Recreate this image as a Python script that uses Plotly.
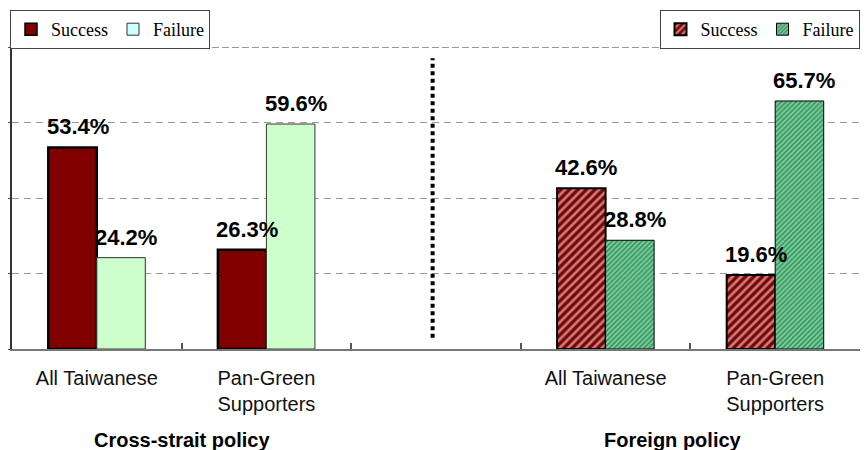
import plotly.graph_objects as go

# ---- data ----
group_labels = ["All Taiwanese", "Pan-Green<br>Supporters"]
cross_x = [0, 1]
foreign_x = [3, 4]
cross_success = [53.4, 26.3]
cross_failure = [24.2, 59.6]
foreign_success = [42.6, 19.6]
foreign_failure = [28.8, 65.7]
section_titles = ["Cross-strait policy", "Foreign policy"]
series_names = ["Success", "Failure"]

# ---- style ----
RED = "#800000"
LIGHT_GREEN = "#CCFFCC"
LEGEND_CYAN = "#CCFFFF"
GREEN = "#33A060"
BARGAP = 0.428
SANS = "Liberation Sans, Arial, sans-serif"
SERIF = "Liberation Serif, Times New Roman, serif"
# the page body adds an 8px margin, so the figure is sized to fit the window
W, H = 860, 442

fig = go.Figure()

# cross-strait bars
fig.add_trace(go.Bar(x=cross_x, y=cross_success, name=series_names[0], offsetgroup="s",
                     marker=dict(color=RED, line=dict(color="black", width=2.5)),
                     showlegend=False))
fig.add_trace(go.Bar(x=cross_x, y=cross_failure, name=series_names[1], offsetgroup="f",
                     marker=dict(color=LIGHT_GREEN, line=dict(color="#333333", width=1)),
                     showlegend=False))
# foreign policy bars (hatched)
fig.add_trace(go.Bar(x=foreign_x, y=foreign_success, name=series_names[0], offsetgroup="s",
                     marker=dict(color=RED, line=dict(color="black", width=2),
                                 pattern=dict(shape="/", fgcolor="white", bgcolor=RED,
                                              size=6, solidity=0.45)),
                     legend="legend2"))
fig.add_trace(go.Bar(x=foreign_x, y=foreign_failure, name=series_names[1], offsetgroup="f",
                     marker=dict(color=GREEN, line=dict(color="black", width=1),
                                 pattern=dict(shape="/", fgcolor="white", bgcolor=GREEN,
                                              size=3.5, solidity=0.4)),
                     legend="legend2"))
# legend entries for the left (solid) legend
fig.add_trace(go.Bar(x=[None], y=[None], name=series_names[0], offsetgroup="s",
                     marker=dict(color=RED, line=dict(color="black", width=1.5)),
                     legend="legend"))
fig.add_trace(go.Bar(x=[None], y=[None], name=series_names[1], offsetgroup="f",
                     marker=dict(color=LEGEND_CYAN, line=dict(color="#333333", width=1)),
                     legend="legend"))

# value labels
off = (1 - BARGAP) / 4
annotations = []
for xs, vals, sgn in [(cross_x, cross_success, -1), (cross_x, cross_failure, 1),
                      (foreign_x, foreign_success, -1), (foreign_x, foreign_failure, 1)]:
    for xv, v in zip(xs, vals):
        annotations.append(dict(x=xv + sgn * off, y=v, xref="x", yref="y",
                                text=f"<b>{v:.1f}%</b>", showarrow=False,
                                yanchor="bottom", yshift=6, xshift=5,
                                font=dict(family=SANS, size=22, color="black")))
# section titles
for xv, t in zip([0.5, 3.4], section_titles):
    annotations.append(dict(x=xv, y=-0.3, xref="x", yref="paper", text=f"<b>{t}</b>",
                            showarrow=False, yanchor="middle",
                            font=dict(family=SANS, size=20, color="black")))

fig.update_layout(
    width=W, height=H,
    margin=dict(l=4, r=8, t=39, b=101, autoexpand=False),
    paper_bgcolor="white", plot_bgcolor="white",
    barmode="group", bargap=BARGAP, bargroupgap=0,
    annotations=annotations,
    shapes=[dict(type="line", xref="x", yref="y", x0=1.98, x1=1.98, y0=3, y1=77,
                 line=dict(color="black", width=4, dash="4px,3.5px")),
            dict(type="line", xref="paper", yref="y", x0=0, x1=1, y0=80, y1=80,
                 line=dict(color="#777777", width=1.5, dash="7px,3px"))],
    legend=dict(orientation="h", xref="container", yref="container",
                x=2 / W, y=1 - 2 / H, xanchor="left", yanchor="top",
                bgcolor="white", bordercolor="#444444", borderwidth=1,
                font=dict(family=SERIF, size=18, color="black"),
                itemwidth=30, traceorder="normal"),
    legend2=dict(orientation="h", xref="container", yref="container",
                 x=(W - 8.5) / W, y=1 - 2 / H, xanchor="right", yanchor="top",
                 bgcolor="white", bordercolor="#444444", borderwidth=1,
                 font=dict(family=SERIF, size=18, color="black"),
                 itemwidth=30, traceorder="normal"),
)

fig.update_xaxes(range=[-0.5, 4.5], tickvals=cross_x + foreign_x, ticktext=group_labels * 2,
                 ticks="", showgrid=False, zeroline=False,
                 showline=True, linecolor="#777777", linewidth=1.5,
                 tickfont=dict(family=SANS, size=20, color="#111111"),
                 ticklabelstandoff=10,
                 minor=dict(tickvals=[0.5, 1.5, 2.5, 3.5], ticks="inside", ticklen=6,
                            tickcolor="#555555", tickwidth=1.5, showgrid=False))
fig.update_yaxes(range=[0, 80], dtick=20, showticklabels=False, zeroline=False,
                 showgrid=True, gridcolor="#999999", gridwidth=1, griddash="7px,5px",
                 showline=True, mirror="ticks", linecolor="#333333", linewidth=1.5,
                 ticks="outside", ticklen=3, tickcolor="#555555")

fig.write_html("out.html")
